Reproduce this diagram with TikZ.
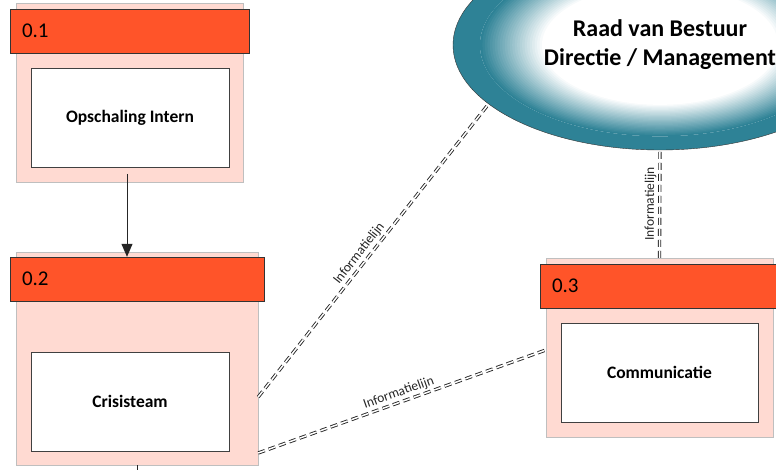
\documentclass[tikz,border=0pt]{standalone}
\usepackage{fontspec}
\setmainfont{Carlito}
\usetikzlibrary{shapes.geometric,arrows.meta,positioning}
\definecolor{headorange}{RGB}{255,84,41}
\definecolor{framepink}{RGB}{255,218,210}
\definecolor{boardteal}{RGB}{46,130,150}
\tikzset{frame box/.style={rectangle,fill=framepink,draw=black!25,inner sep=0pt},
         head bar/.style={rectangle,fill=headorange,draw=black!80,minimum height=44pt,inner sep=0pt},
         head label/.style={rectangle,inner sep=0pt,font=\fontsize{21}{24}\selectfont},
         task box/.style={rectangle,fill=white,draw=black!75,minimum width=198pt,minimum height=99pt,inner sep=0pt,font=\bfseries\fontsize{17.5}{20}\selectfont},
         board/.style={ellipse,draw=black!80,minimum width=414pt,minimum height=210pt,inner sep=0pt,align=center,font=\bfseries\fontsize{24}{29}\selectfont},
         info line/.style={draw=black!85,line width=0.9pt,double=white,double distance=1.5pt,dash pattern=on 7pt off 4pt},
         line label/.style={rectangle,draw=none,fill=none,sloped,above,inner sep=3pt,font=\fontsize{13.5}{15}\selectfont,text=black!85},
}
\begin{document}
\begin{tikzpicture}[x=1pt,y=-1pt,>={Triangle[length=13pt,width=11pt]}]
% \draw[help lines,step=50] (0,0) grid (776,470);
\clip (0,0) rectangle (776,470);
% 0.1
\node[frame box,minimum width=227pt,minimum height=179pt] (f1) at (129.5,92.5) {};
\node[head bar,minimum width=239pt] (h1) at (129.5,31) {};
\node[head label,right=12pt of h1.west] (l1) {0.1};
\node[task box] (t1) at (130,117.5) {Opschaling Intern};
% 0.2
\node[frame box,minimum width=242pt,minimum height=213pt] (f2) at (137,358.5) {};
\node[head bar,minimum width=254pt] (h2) at (137,279) {};
\node[head label,right=12pt of h2.west] (l2) {0.2};
\node[task box] (t2) at (130,401.5) {Crisisteam};
% 0.3
\node[frame box,minimum width=227pt,minimum height=179pt] (f3) at (659.5,347.5) {};
\node[head bar,minimum width=239pt] (h3) at (659.5,286) {};
\node[head label,right=12pt of h3.west] (l3) {0.3};
\node[task box,minimum width=197pt] (t3) at (659.5,372.5) {Communicatie};
% top, glow from teal rim to white centre
\foreach \k in {0,...,25}{
  \pgfmathsetmacro\f{0.87-0.012*\k}
  \pgfmathtruncatemacro\p{100-4*\k}
  \fill[boardteal!\p!white] (660,45) ellipse [x radius=\f*207pt,y radius=\f*105pt];
}
\fill[boardteal,even odd rule] (660,45) ellipse [x radius=207pt,y radius=105pt]
  (660,45) ellipse [x radius=0.87*207pt,y radius=0.87*105pt];
\node[board] (rvb) at (660,45) {Raad van Bestuur\\Directie / Management};

\coordinate (a1) at (127,174);
\draw[->,line width=1pt,black!85] (a1) -- (a1 |- h2.north);
\coordinate (out2) at (137,470);
\draw[line width=1pt,black!85] (f2.south) -- (out2);

\draw[info line] ([yshift=-38.5pt]f2.east) -- node[line label,pos=0.47] (i1) {Informatielijn} (rvb.199);
\draw[info line] ([yshift=-94.5pt]f2.east) -- node[line label,pos=0.5] (i2) {Informatielijn} ([yshift=-2.5pt]f3.west);
\draw[info line] (f3.north) -- node[line label,pos=0.5] (i3) {Informatielijn} (rvb.south);
\end{tikzpicture}
\end{document}
